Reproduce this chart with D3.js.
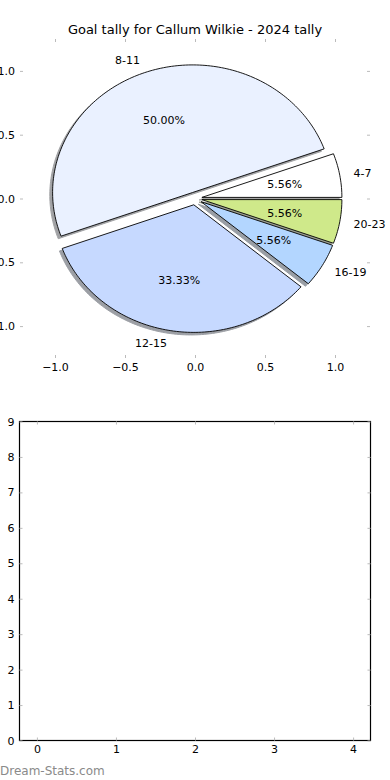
<!DOCTYPE html>
<html>

<head>
  <meta charset="UTF-8">
  <style>
    body { margin: 0; background: #fff; }
    svg { display: block; font-family: "DejaVu Sans", sans-serif; }
  </style>
</head>

<body>
  <svg></svg>
  <script src="https://d3js.org/d3.v7.min.js"></script>

  <script>

    let width = 390, height = 780;

    // pie data
    let labels = ["4-7", "8-11", "12-15", "16-19", "20-23"];
    let goals = [1, 9, 6, 1, 1];
    let colors = ["#ffffff", "#eaf1ff", "#c6d9ff", "#b3d6ff", "#cfe98a"];
    let explode = [0.05, 0.05, 0.05, 0.05, 0.05];
    let pieTicks = [-1.0, -0.5, 0.0, 0.5, 1.0];

    // empty lower chart
    let barXTicks = [0, 1, 2, 3, 4];
    let barYTicks = [0, 1, 2, 3, 4, 5, 6, 7, 8, 9];

    let svg = d3.select("svg")
      .attr("width", width)
      .attr("height", height);

    // title
    svg.append("text")
      .attr("x", 195)
      .attr("y", 34)
      .attr("text-anchor", "middle")
      .style("font-size", "13px")
      .text("Goal tally for Callum Wilkie - 2024 tally");

    // ---------- pie axes ----------
    let px = d3.scaleLinear().domain([-1.25, 1.25]).range([20, 370]);
    let py = d3.scaleLinear().domain([-1.25, 1.25]).range([358, 39]);

    let pieG = svg.append("g");

    // angles: d3.pie gives cumulative angles, used here counter-clockwise from east
    let arcs = d3.pie().sort(null).startAngle(0).endAngle(2 * Math.PI)(goals);
    let total = d3.sum(goals);

    function wedgePath(d, i, ox, oy) {
      let th = (d.startAngle + d.endAngle) / 2;
      let cx = explode[i] * Math.cos(th) + ox;
      let cy = explode[i] * Math.sin(th) + oy;
      let pts = [[px(cx), py(cy)]];
      let n = Math.max(4, Math.ceil((d.endAngle - d.startAngle) / 0.02));
      for (let k = 0; k <= n; k++) {
        let a = d.startAngle + (d.endAngle - d.startAngle) * k / n;
        pts.push([px(cx + Math.cos(a)), py(cy + Math.sin(a))]);
      }
      return d3.line()(pts) + "Z";
    }

    // shadows below every wedge
    pieG.append("g")
      .selectAll("path")
      .data(arcs)
      .enter()
      .append("path")
      .attr("d", (d, i) => wedgePath(d, i, -0.02, -0.02))
      .attr("fill", (d, i) => {
        let c = d3.rgb(colors[i]);
        return d3.rgb(c.r * 0.3, c.g * 0.3, c.b * 0.3);
      })
      .attr("stroke", (d, i) => {
        let c = d3.rgb(colors[i]);
        return d3.rgb(c.r * 0.3, c.g * 0.3, c.b * 0.3);
      })
      .attr("opacity", 0.5);

    pieG.append("g")
      .selectAll("path")
      .data(arcs)
      .enter()
      .append("path")
      .attr("d", (d, i) => wedgePath(d, i, 0, 0))
      .attr("fill", (d, i) => colors[i])
      .attr("stroke", "#000")
      .attr("stroke-width", 0.9)
      .attr("stroke-linejoin", "miter");

    // labels
    arcs.forEach((d, i) => {
      let th = (d.startAngle + d.endAngle) / 2;
      let cx = explode[i] * Math.cos(th);
      let cy = explode[i] * Math.sin(th);
      let xt = cx + 1.1 * Math.cos(th);
      let yt = cy + 1.1 * Math.sin(th);
      pieG.append("text")
        .attr("x", px(xt))
        .attr("y", py(yt))
        .attr("dy", "0.35em")
        .attr("text-anchor", xt > 0 ? "start" : "end")
        .style("font-size", "11px")
        .text(labels[i]);
      pieG.append("text")
        .attr("x", px(cx + 0.6 * Math.cos(th)))
        .attr("y", py(cy + 0.6 * Math.sin(th)))
        .attr("dy", "0.35em")
        .attr("text-anchor", "middle")
        .style("font-size", "11px")
        .text((goals[i] / total * 100).toFixed(2) + "%");
    });

    function styleAxis(g, keepDomain) {
      if (!keepDomain) g.select(".domain").remove();
      else g.select(".domain").attr("stroke", "#000");
      g.selectAll(".tick line").attr("stroke", "#bbb");
      g.selectAll(".tick text")
        .attr("fill", "#000")
        .style("font-family", "DejaVu Sans, sans-serif")
        .style("font-size", "11px");
    }

    let fmt1 = d => d3.format(".1f")(d).replace("-", "\u2212");

    // pie ticks (frame hidden)
    svg.append("g")
      .attr("transform", "translate(0,358)")
      .call(d3.axisBottom(px).tickValues(pieTicks).tickFormat(fmt1).tickSize(-3).tickPadding(5))
      .call(g => styleAxis(g, false));
    svg.append("g")
      .attr("transform", "translate(0,39)")
      .call(d3.axisTop(px).tickValues(pieTicks).tickFormat("").tickSize(-3))
      .call(g => styleAxis(g, false));
    svg.append("g")
      .attr("transform", "translate(20,0)")
      .call(d3.axisLeft(py).tickValues(pieTicks).tickFormat(fmt1).tickSize(-3).tickPadding(5))
      .call(g => styleAxis(g, false));
    svg.append("g")
      .attr("transform", "translate(370,0)")
      .call(d3.axisRight(py).tickValues(pieTicks).tickFormat("").tickSize(-3))
      .call(g => styleAxis(g, false));

    // ---------- empty lower axes ----------
    let bx = d3.scaleLinear().domain([-0.22, 4.22]).range([19.5, 370.5]);
    let by = d3.scaleLinear().domain([0, 9]).range([740.5, 421.5]);

    svg.append("rect")
      .attr("x", bx(-0.22))
      .attr("y", by(9))
      .attr("width", bx(4.22) - bx(-0.22))
      .attr("height", by(0) - by(9))
      .attr("fill", "none")
      .attr("stroke", "#000")
      .attr("stroke-width", 1.2);

    svg.append("g")
      .attr("transform", "translate(0," + by(0) + ")")
      .call(d3.axisBottom(bx).tickValues(barXTicks).tickFormat(d3.format("d")).tickSize(-3).tickPadding(5))
      .call(g => styleAxis(g, false));
    svg.append("g")
      .attr("transform", "translate(0," + by(9) + ")")
      .call(d3.axisTop(bx).tickValues(barXTicks).tickFormat("").tickSize(-3))
      .call(g => styleAxis(g, false));
    svg.append("g")
      .attr("transform", "translate(" + bx(-0.22) + ",0)")
      .call(d3.axisLeft(by).tickValues(barYTicks).tickFormat(d3.format("d")).tickSize(-3).tickPadding(5))
      .call(g => styleAxis(g, false));
    svg.append("g")
      .attr("transform", "translate(" + bx(4.22) + ",0)")
      .call(d3.axisRight(by).tickValues(barYTicks).tickFormat("").tickSize(-3))
      .call(g => styleAxis(g, false));

    // watermark
    svg.append("text")
      .attr("x", 0)
      .attr("y", 775)
      .attr("fill", "#8a8a8a")
      .style("font-size", "12px")
      .text("Dream-Stats.com");

  </script>

</body>

</html>
